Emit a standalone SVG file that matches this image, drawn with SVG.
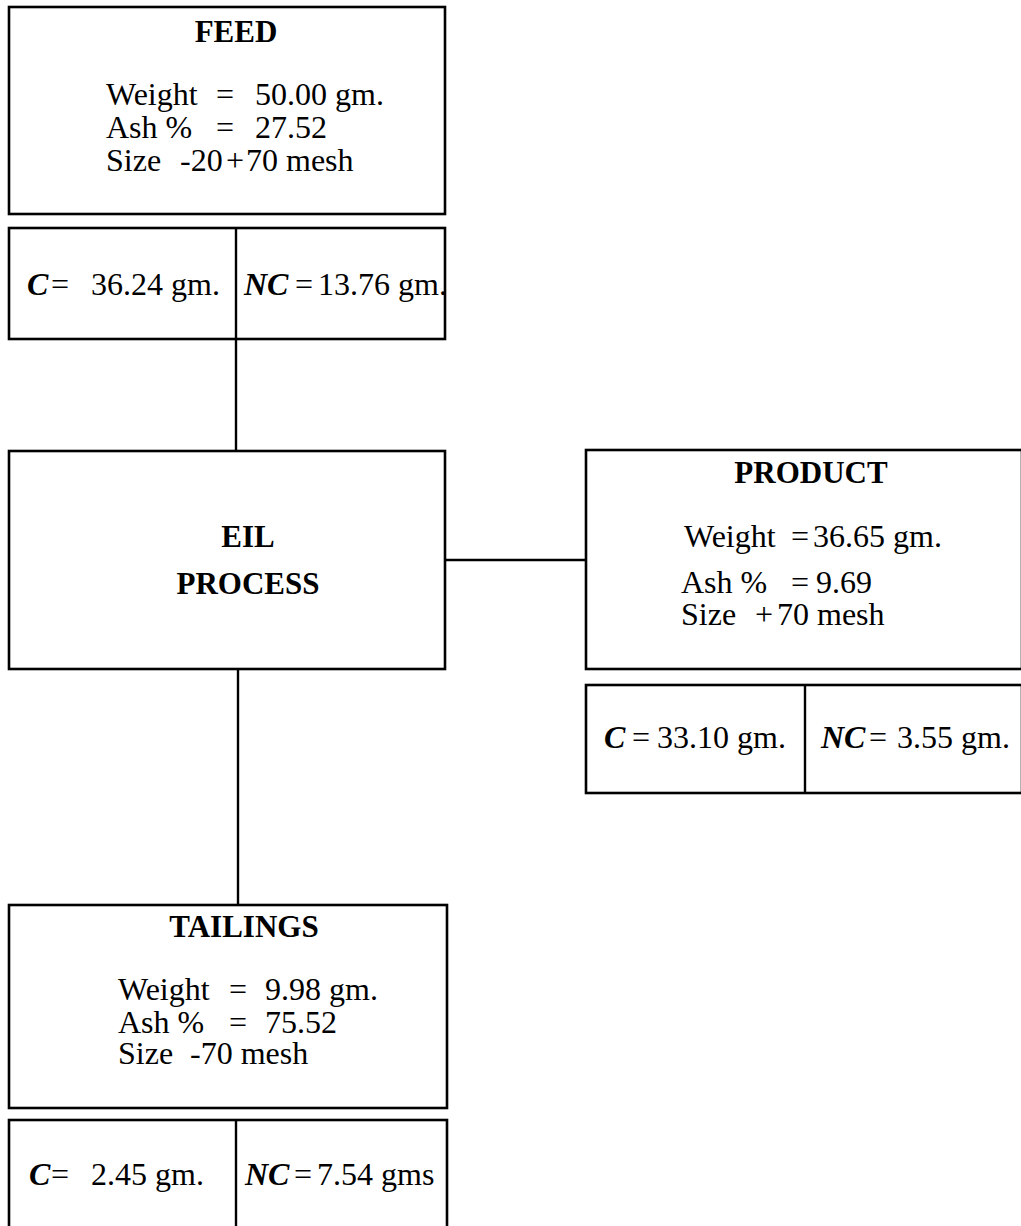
<svg xmlns="http://www.w3.org/2000/svg" width="1021" height="1226" viewBox="0 0 1021 1226">
<style>
.box{fill:none;stroke:#000;stroke-width:2.6}
.ln{fill:none;stroke:#000;stroke-width:2.4}
text{font-family:"Liberation Serif","Times New Roman",serif;font-size:32px;fill:#000}
.t{font-weight:bold;font-size:31px;text-anchor:middle}
.v{font-weight:bold;font-style:italic}
</style>
<rect width="1021" height="1226" fill="#fff"/>
<g id="connectors">
<line class="ln" x1="236" y1="339" x2="236" y2="451"/>
<line class="ln" x1="445" y1="560" x2="586" y2="560"/>
<line class="ln" x1="238" y1="669" x2="238" y2="905"/>
</g>
<g id="feed">
<rect class="box" x="9" y="7" width="436" height="207"/>
<text class="t" x="236" y="42">FEED</text>
<text><tspan x="106" y="105">Weight</tspan><tspan x="216">=</tspan><tspan x="255">50.00 gm.</tspan></text>
<text><tspan x="106" y="138">Ash %</tspan><tspan x="216">=</tspan><tspan x="255">27.52</tspan></text>
<text><tspan x="106" y="171">Size</tspan><tspan x="180">-20</tspan><tspan x="226">+</tspan><tspan x="246">70 mesh</tspan></text>
</g>
<g id="feed-cnc">
<rect class="box" x="9" y="228" width="436" height="111"/>
<line class="ln" x1="236" y1="228" x2="236" y2="339"/>
<text><tspan class="v" x="27" y="295">C</tspan><tspan x="51">=</tspan><tspan x="91">36.24 gm.</tspan></text>
<text><tspan class="v" x="244" y="295">NC</tspan><tspan x="295">=</tspan><tspan x="318">13.76 gm.</tspan></text>
</g>
<g id="eil">
<rect class="box" x="9" y="451" width="436" height="218"/>
<text class="t" x="248" y="547">EIL</text>
<text class="t" x="248" y="594">PROCESS</text>
</g>
<g id="product">
<rect class="box" x="586" y="450" width="436" height="219"/>
<text class="t" x="811" y="483">PRODUCT</text>
<text><tspan x="684" y="547">Weight</tspan><tspan x="791">=</tspan><tspan x="813">36.65 gm.</tspan></text>
<text><tspan x="681" y="593">Ash %</tspan><tspan x="791">=</tspan><tspan x="816">9.69</tspan></text>
<text><tspan x="681" y="625">Size</tspan><tspan x="755">+</tspan><tspan x="777">70 mesh</tspan></text>
</g>
<g id="product-cnc">
<rect class="box" x="586" y="685" width="436" height="108"/>
<line class="ln" x1="805" y1="685" x2="805" y2="793"/>
<text><tspan class="v" x="604" y="748">C</tspan><tspan x="632">=</tspan><tspan x="657">33.10 gm.</tspan></text>
<text><tspan class="v" x="821" y="748">NC</tspan><tspan x="869">=</tspan><tspan x="897">3.55 gm.</tspan></text>
</g>
<g id="tailings">
<rect class="box" x="9" y="905" width="438" height="203"/>
<text class="t" x="244" y="937">TAILINGS</text>
<text><tspan x="118" y="1000">Weight</tspan><tspan x="229">=</tspan><tspan x="265">9.98 gm.</tspan></text>
<text><tspan x="118" y="1033">Ash %</tspan><tspan x="229">=</tspan><tspan x="265">75.52</tspan></text>
<text><tspan x="118" y="1064">Size</tspan><tspan x="190">-70 mesh</tspan></text>
</g>
<g id="tailings-cnc">
<rect class="box" x="9" y="1120" width="438" height="120"/>
<line class="ln" x1="236" y1="1120" x2="236" y2="1226"/>
<text><tspan class="v" x="29" y="1185">C</tspan><tspan x="51">=</tspan><tspan x="91">2.45 gm.</tspan></text>
<text><tspan class="v" x="245" y="1185">NC</tspan><tspan x="294">=</tspan><tspan x="317">7.54 gms</tspan></text>
</g>
</svg>
